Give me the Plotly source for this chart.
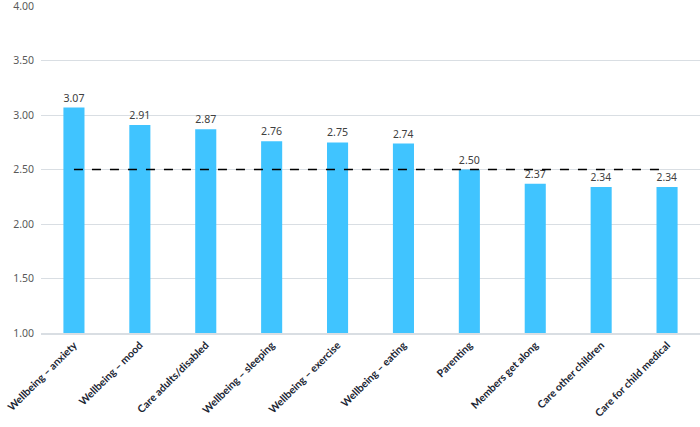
import plotly.graph_objects as go

categories = ["Wellbeing – anxiety", "Wellbeing – mood", "Care adults/disabled",
              "Wellbeing – sleeping", "Wellbeing – exercise", "Wellbeing – eating",
              "Parenting", "Members get along", "Care other children",
              "Care for child medical"]
values = [3.07, 2.91, 2.87, 2.76, 2.75, 2.74, 2.50, 2.37, 2.34, 2.34]
threshold = [2.5] * len(categories)

fig = go.Figure()
fig.add_trace(go.Bar(
    x=categories, y=values, base=0,
    marker=dict(color="#40C4FF", line=dict(width=0)),
    width=0.32,
    text=[f"{v:.2f}" for v in values], textposition="outside",
    textfont=dict(family="Noto Sans, DejaVu Sans", size=11, color="#404040"),
    cliponaxis=False,
))
fig.add_trace(go.Scatter(
    x=categories, y=threshold, mode="lines",
    line=dict(color="#000000", width=1.5, dash="dash"),
))
fig.update_layout(
    width=700, height=427,
    margin=dict(l=41, r=0, t=6, b=94),
    paper_bgcolor="white", plot_bgcolor="white",
    showlegend=False, bargap=0.68,
)
fig.update_yaxes(range=[1, 4.002], tickvals=[1, 1.5, 2, 2.5, 3, 3.5, 4], tickformat=".2f",
                 gridcolor="#d9dee3", gridwidth=1, showline=False, zeroline=False,
                 tickfont=dict(family="Noto Sans, DejaVu Sans", size=10.5, color="#595959"),
                 ticks="", ticklabelstandoff=6, automargin=False,
                 ticklabeloverflow="allow")
fig.update_xaxes(tickangle=-45, showline=True, linecolor="#d9dee3", linewidth=2,
                 tickfont=dict(family="Lato", size=10.5, color="#1a2533", weight="bold"),
                 ticks="", automargin=False, ticklabeloverflow="allow")
fig.write_html("out.html", config={"displayModeBar": False},
               post_script="document.body.style.margin='0';")
